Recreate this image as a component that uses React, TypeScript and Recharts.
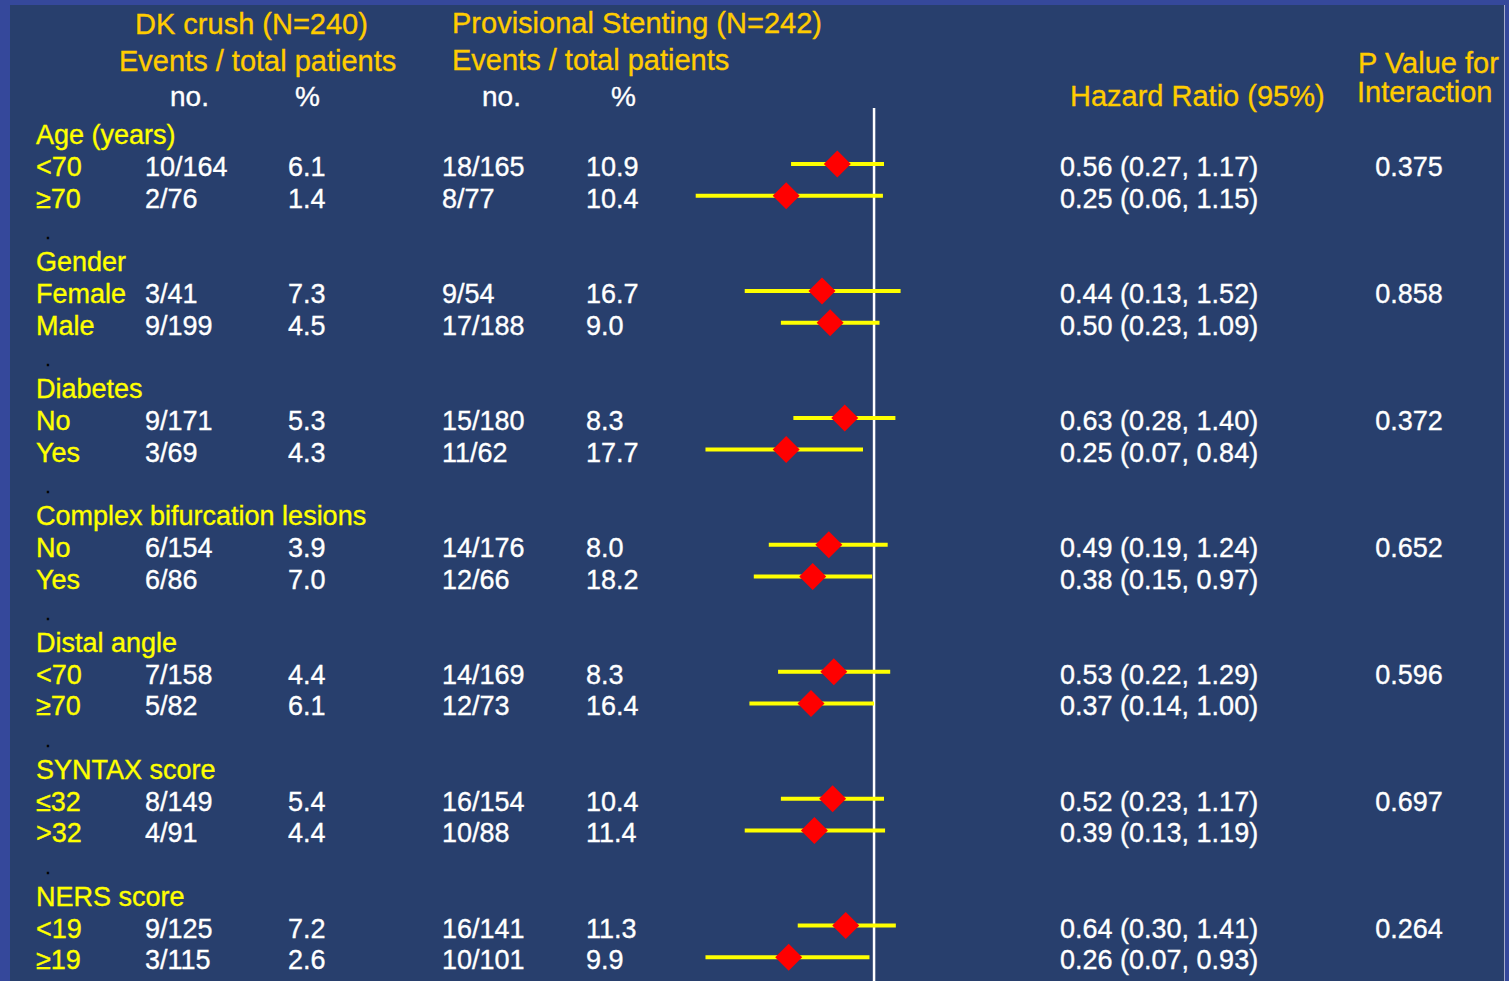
import React from 'react';
import { ScatterChart, Scatter, XAxis, YAxis, ErrorBar, ReferenceLine } from 'recharts';

const groupNames = ['Age (years)', 'Gender', 'Diabetes', 'Complex bifurcation lesions', 'Distal angle', 'SYNTAX score', 'NERS score'];
const subgroupLabels = ['<70', '≥70', 'Female', 'Male', 'No', 'Yes', 'No', 'Yes', '<70', '≥70', '≤32', '>32', '<19', '≥19'];
const dkEvents = ['10/164', '2/76', '3/41', '9/199', '9/171', '3/69', '6/154', '6/86', '7/158', '5/82', '8/149', '4/91', '9/125', '3/115'];
const dkPct = ['6.1', '1.4', '7.3', '4.5', '5.3', '4.3', '3.9', '7.0', '4.4', '6.1', '5.4', '4.4', '7.2', '2.6'];
const psEvents = ['18/165', '8/77', '9/54', '17/188', '15/180', '11/62', '14/176', '12/66', '14/169', '12/73', '16/154', '10/88', '16/141', '10/101'];
const psPct = ['10.9', '10.4', '16.7', '9.0', '8.3', '17.7', '8.0', '18.2', '8.3', '16.4', '10.4', '11.4', '11.3', '9.9'];
const hazardRatio = [0.56, 0.25, 0.44, 0.50, 0.63, 0.25, 0.49, 0.38, 0.53, 0.37, 0.52, 0.39, 0.64, 0.26];
const ciLower = [0.27, 0.06, 0.13, 0.23, 0.28, 0.07, 0.19, 0.15, 0.22, 0.14, 0.23, 0.13, 0.30, 0.07];
const ciUpper = [1.17, 1.15, 1.52, 1.09, 1.40, 0.84, 1.24, 0.97, 1.29, 1.00, 1.17, 1.19, 1.41, 0.93];
const pInteraction = ['0.375', '0.858', '0.372', '0.652', '0.596', '0.697', '0.264'];

const rowOf = (j: number) => 4 * Math.floor(j / 2) + 1 + (j % 2);

const chartData = hazardRatio.map((hr, j) => ({
  row: rowOf(j),
  hr,
  ci: [hr - ciLower[j], ciUpper[j] - hr],
}));

const W = 1509;
const H = 981;
const FONT = '"Liberation Sans", Arial, Helvetica, sans-serif';
const GOLD = '#FFCC00';
const YELLOW = '#FFFF00';
const WHITE = '#FFFFFF';

const baseline = (i: number) => 144.3 + 31.73 * i;

const Diamond = (props: any) => {
  const { cx, cy } = props;
  if (cx == null || cy == null) return null;
  const r = 13.5;
  return (
    <polygon
      points={`${cx},${cy - r} ${cx + r},${cy} ${cx},${cy + r} ${cx - r},${cy}`}
      fill="#FF0000"
    />
  );
};

export default function App() {
  const T = (x: number, y: number, s: string, fill: string, size = 27, anchor: any = 'start') => (
    <text x={x} y={y} fill={fill} stroke={fill} strokeWidth={0.35} fontSize={size} fontFamily={FONT} textAnchor={anchor}>
      {s}
    </text>
  );

  return (
    <div style={{ position: 'absolute', left: 0, top: 0, width: W, height: H, background: '#35489B', overflow: 'hidden' }}>
      <div style={{ position: 'absolute', left: 10, top: 5, width: 1494, height: 976, background: '#283F6D' }} />
      <div style={{ position: 'absolute', left: 1504, top: 5, width: 1, height: 976, background: '#A7AECB' }} />
      <div style={{ position: 'absolute', left: 0, top: 0 }}>
        <ScatterChart width={W} height={H} margin={{ top: 108, right: 591, bottom: 0, left: 670 }}>
          <XAxis type="number" dataKey="hr" scale="log" domain={[0.04, 2]} allowDataOverflow hide />
          <YAxis type="number" dataKey="row" domain={[-0.766, 26.747]} allowDataOverflow reversed hide />
          <ReferenceLine x={1} stroke="#FFFFFF" strokeWidth={2.5} />
          <Scatter data={chartData} isAnimationActive={false} shape={Diamond}>
            <ErrorBar dataKey="ci" direction="x" width={0} stroke={YELLOW} strokeWidth={4} />
          </Scatter>
        </ScatterChart>
      </div>
      <svg width={W} height={H} style={{ position: 'absolute', left: 0, top: 0, pointerEvents: 'none' }}>
        {T(135, 34, 'DK crush (N=240)', GOLD, 29)}
        {T(119, 71, 'Events / total patients', GOLD, 29)}
        {T(170, 106, 'no.', WHITE, 28)}
        {T(295, 106, '%', WHITE, 28)}
        {T(452, 33, 'Provisional Stenting (N=242)', GOLD, 29)}
        {T(452, 70, 'Events / total patients', GOLD, 29)}
        {T(482, 106, 'no.', WHITE, 28)}
        {T(611, 106, '%', WHITE, 28)}
        {T(1070, 106, 'Hazard Ratio (95%)', GOLD, 29)}
        {T(1358, 73, 'P Value for', GOLD, 29)}
        {T(1357, 102, 'Interaction', GOLD, 29)}
        {groupNames.map((g, k) => (
          <React.Fragment key={'g' + k}>
            {T(36, baseline(4 * k), g, YELLOW)}
            {k < groupNames.length - 1 ? T(45.5, baseline(4 * k + 3), '.', '#000000', 18) : null}
            {T(1409, baseline(4 * k + 1), pInteraction[k], WHITE, 27, 'middle')}
          </React.Fragment>
        ))}
        {subgroupLabels.map((s, j) => {
          const y = baseline(rowOf(j));
          return (
            <React.Fragment key={'s' + j}>
              {T(36, y, s, YELLOW)}
              {T(145, y, dkEvents[j], WHITE)}
              {T(288, y, dkPct[j], WHITE)}
              {T(442, y, psEvents[j], WHITE)}
              {T(586, y, psPct[j], WHITE)}
              {T(1060, y, `${hazardRatio[j].toFixed(2)} (${ciLower[j].toFixed(2)}, ${ciUpper[j].toFixed(2)})`, WHITE)}
            </React.Fragment>
          );
        })}
      </svg>
    </div>
  );
}
